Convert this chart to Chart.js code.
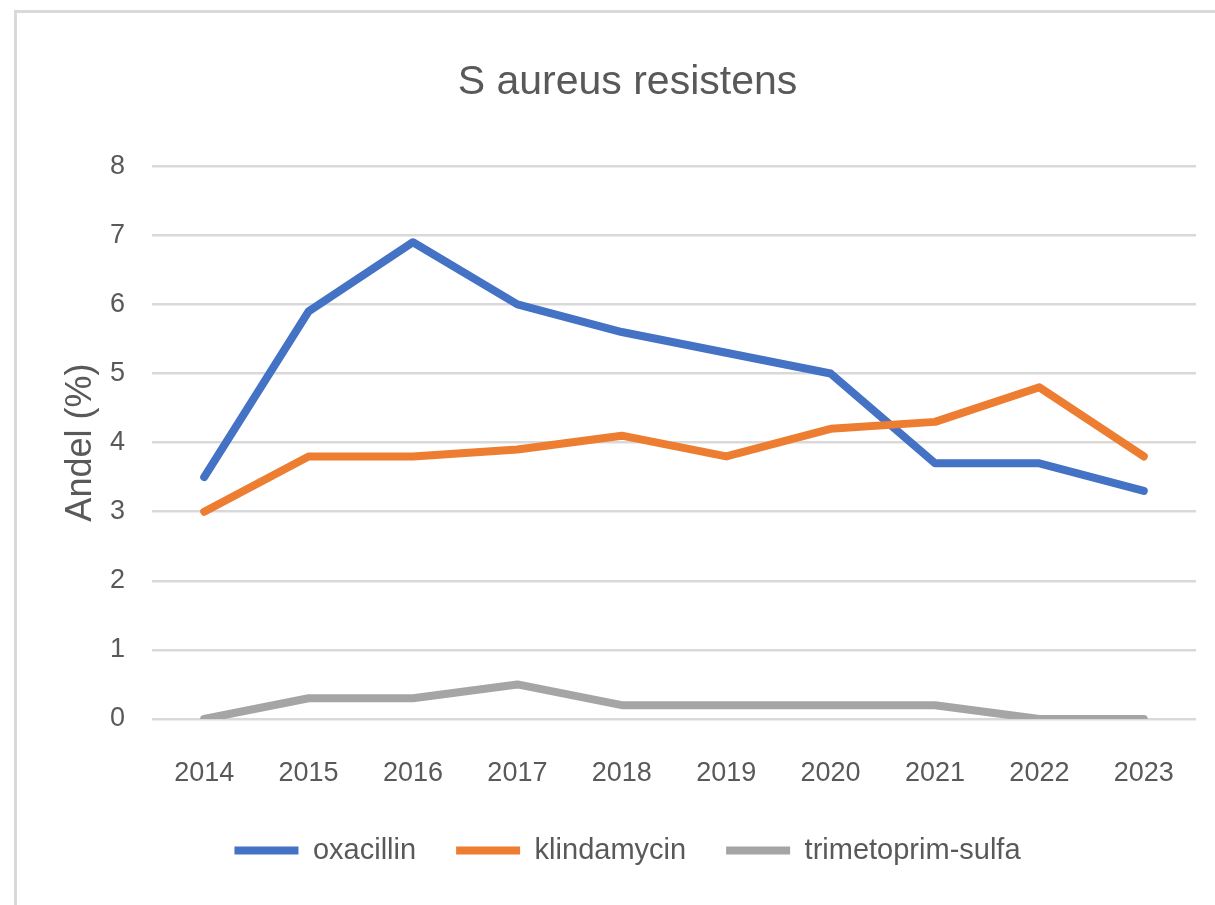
<!DOCTYPE html>
<html>
<head>
<meta charset="utf-8">
<script src="https://cdn.jsdelivr.net/npm/chart.js@4/dist/chart.umd.min.js"></script>
<style>
  html, body { margin: 0; padding: 0; background: #fff; overflow: hidden; }
  #frame {
    position: absolute; left: 14px; top: 10px;
    width: 1222px; height: 910px;
    border: 3px solid #d9d9d9; background: #fff;
  }
  #chart { display: block; }
</style>
</head>
<body>
<div id="frame"><canvas id="chart" width="1222" height="910"></canvas></div>
<script>
// data
const years = ["2014", "2015", "2016", "2017", "2018", "2019", "2020", "2021", "2022", "2023"];
const oxacillin = [3.5, 5.9, 6.9, 6.0, 5.6, 5.3, 5.0, 3.7, 3.7, 3.3];
const klindamycin = [3.0, 3.8, 3.8, 3.9, 4.1, 3.8, 4.2, 4.3, 4.8, 3.8];
const trimetoprimSulfa = [0, 0.3, 0.3, 0.5, 0.2, 0.2, 0.2, 0.2, 0, 0];
const seriesNames = ["oxacillin", "klindamycin", "trimetoprim-sulfa"];
const seriesColors = ["#4472c4", "#ed7d31", "#a5a5a5"];

const FONT = "'Liberation Sans', Arial, sans-serif";
const TEXT = "#595959";

// later series sit on top, like in the original
function lineSet(label, data, color, order) {
  return {
    label: label,
    data: data,
    order: order,
    borderColor: color,
    backgroundColor: color,
    borderWidth: 8,
    borderCapStyle: "round",
    borderJoinStyle: "round",
    pointRadius: 0,
    tension: 0,
    fill: false,
  };
}

const ctx = document.getElementById("chart").getContext("2d");
new Chart(ctx, {
  type: "line",
  data: {
    labels: years,
    datasets: [
      lineSet(seriesNames[0], oxacillin, seriesColors[0], 2),
      lineSet(seriesNames[1], klindamycin, seriesColors[1], 1),
      lineSet(seriesNames[2], trimetoprimSulfa, seriesColors[2], 0),
    ],
  },
  options: {
    responsive: false,
    animation: false,
    layout: { padding: { left: 42, right: 43, top: 0, bottom: 48 } },
    plugins: {
      title: {
        display: true,
        text: "S aureus resistens",
        color: TEXT,
        font: { family: FONT, size: 41, weight: "normal" },
        padding: { top: 45, bottom: 59 },
      },
      legend: {
        position: "bottom",
        labels: {
          color: TEXT,
          font: { family: FONT, size: 29 },
          usePointStyle: true,
          pointStyle: "line",
          pointStyleWidth: 64,
          padding: 40,
          sort: (a, b) => a.datasetIndex - b.datasetIndex,
        },
      },
      tooltip: { enabled: false },
    },
    scales: {
      x: {
        offset: true,
        grid: { display: false, drawTicks: false },
        border: { display: false },
        ticks: {
          color: TEXT,
          font: { family: FONT, size: 27 },
          padding: 38,
          maxRotation: 0,
        },
        // chart.js counts tick padding twice, so fix the band height
        afterFit: (scale) => { scale.height = 77; },
      },
      y: {
        min: 0,
        max: 8,
        ticks: {
          stepSize: 1,
          color: TEXT,
          font: { family: FONT, size: 27 },
          padding: 27,
        },
        grid: { color: "#d9d9d9", lineWidth: 2.5, drawTicks: false },
        border: { display: false },
        title: {
          display: true,
          text: "Andel (%)",
          color: TEXT,
          font: { family: FONT, size: 36 },
          padding: { top: 0, bottom: 8 },
        },
        afterFit: (scale) => { scale.width = 93; },
      },
    },
  },
});
</script>
</body>
</html>
